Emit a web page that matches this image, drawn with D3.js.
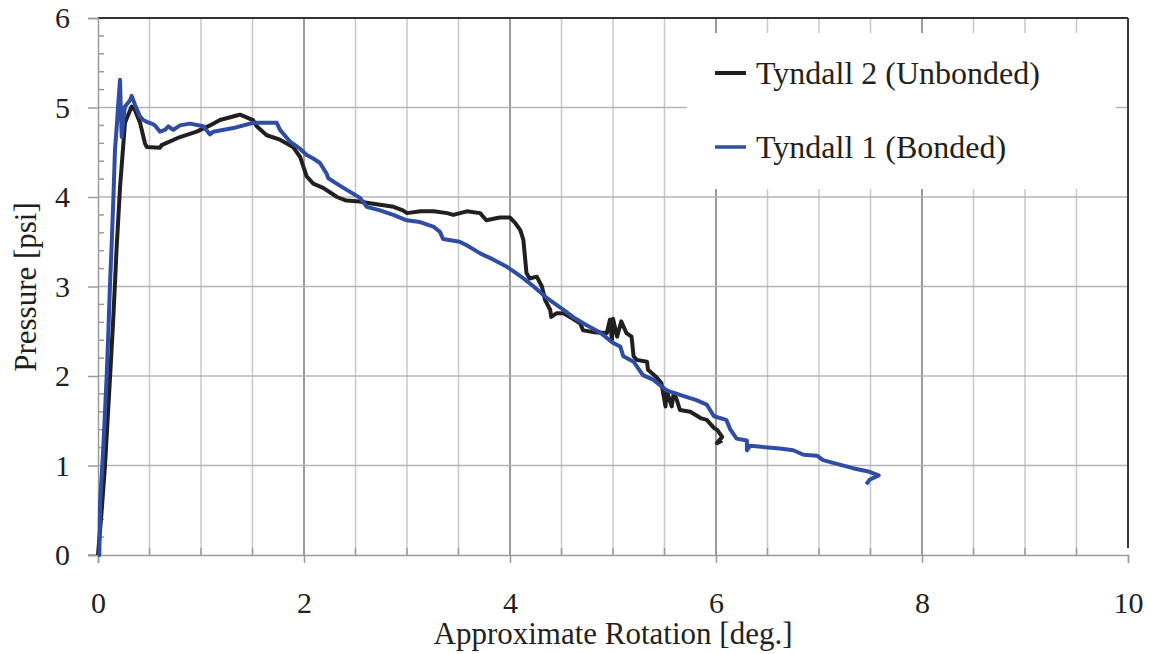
<!DOCTYPE html>
<html>
<head>
<meta charset="utf-8">
<script src="https://cdn.jsdelivr.net/npm/d3@7"></script>
<style>
  html, body { margin: 0; padding: 0; background: #fff; }
  svg { display: block; }
  text { font-family: "Liberation Serif", "Times New Roman", serif; fill: #231f20; }
</style>
</head>
<body>
<svg id="chart" width="1151" height="654"></svg>
<script>
// ---- data ----
const seriesNames = ["Tyndall 2 (Unbonded)", "Tyndall 1 (Bonded)"];
const xTickLabels = [0, 2, 4, 6, 8, 10];
const yTickLabels = [0, 1, 2, 3, 4, 5, 6];

const unbondedX = [0, 0.036, 0.068, 0.117, 0.146, 0.165, 0.18, 0.214, 0.262, 0.327, 0.359, 0.408, 0.456, 0.473, 0.602, 0.618, 0.796, 0.958, 1.087, 1.184, 1.347, 1.379, 1.505, 1.541, 1.638, 1.767, 1.893, 1.961, 2.026, 2.09, 2.19, 2.32, 2.41, 2.54, 2.64, 2.87, 2.96, 3.00, 3.13, 3.26, 3.39, 3.45, 3.58, 3.71, 3.77, 3.90, 4.00, 4.05, 4.10, 4.13, 4.16, 4.19, 4.26, 4.31, 4.34, 4.39, 4.40, 4.45, 4.52, 4.61, 4.68, 4.71, 4.81, 4.94, 4.97, 4.99, 5.00, 5.04, 5.08, 5.13, 5.18, 5.20, 5.23, 5.33, 5.34, 5.42, 5.47, 5.51, 5.52, 5.57, 5.59, 5.62, 5.65, 5.75, 5.85, 5.91, 5.98, 6.01, 6.06, 6.01, 6.06];
const unbondedY = [0, 0.50, 1.0, 1.99, 2.59, 3.04, 3.41, 4.11, 4.83, 5.01, 4.97, 4.83, 4.60, 4.56, 4.55, 4.58, 4.67, 4.73, 4.80, 4.86, 4.91, 4.92, 4.86, 4.79, 4.69, 4.64, 4.56, 4.45, 4.23, 4.15, 4.10, 4.00, 3.96, 3.95, 3.93, 3.89, 3.85, 3.82, 3.84, 3.84, 3.82, 3.80, 3.84, 3.82, 3.74, 3.77, 3.77, 3.71, 3.63, 3.52, 3.15, 3.09, 3.11, 3.00, 2.85, 2.74, 2.66, 2.70, 2.70, 2.64, 2.59, 2.51, 2.49, 2.48, 2.63, 2.40, 2.64, 2.44, 2.61, 2.48, 2.44, 2.22, 2.18, 2.16, 2.07, 1.99, 1.92, 1.66, 1.84, 1.66, 1.81, 1.73, 1.62, 1.60, 1.53, 1.51, 1.42, 1.40, 1.32, 1.25, 1.28];

const bondedX = [0, 0.013, 0.02, 0.05, 0.084, 0.10, 0.117, 0.133, 0.149, 0.165, 0.182, 0.197, 0.214, 0.220, 0.230, 0.246, 0.262, 0.311, 0.327, 0.359, 0.408, 0.44, 0.473, 0.521, 0.553, 0.602, 0.650, 0.683, 0.731, 0.796, 0.893, 1.022, 1.087, 1.12, 1.314, 1.508, 1.735, 1.767, 1.864, 1.961, 2.026, 2.09, 2.155, 2.22, 2.236, 2.317, 2.415, 2.544, 2.609, 2.738, 2.867, 2.997, 3.126, 3.255, 3.32, 3.35, 3.51, 3.58, 3.71, 3.84, 3.97, 4.06, 4.13, 4.23, 4.36, 4.52, 4.61, 4.74, 4.87, 5.00, 5.07, 5.10, 5.20, 5.29, 5.39, 5.52, 5.65, 5.81, 5.91, 5.98, 6.10, 6.14, 6.20, 6.30, 6.30, 6.33, 6.62, 6.75, 6.85, 6.98, 7.04, 7.20, 7.33, 7.49, 7.58, 7.49, 7.46];
const bondedY = [0, 0, 0.58, 1.17, 1.99, 2.48, 3.04, 3.48, 3.97, 4.53, 4.79, 5.05, 5.31, 5.05, 4.67, 4.86, 5.01, 5.08, 5.13, 5.03, 4.90, 4.86, 4.84, 4.82, 4.80, 4.73, 4.75, 4.79, 4.75, 4.80, 4.82, 4.79, 4.70, 4.73, 4.77, 4.83, 4.83, 4.75, 4.62, 4.54, 4.47, 4.43, 4.38, 4.26, 4.21, 4.15, 4.08, 3.99, 3.89, 3.85, 3.80, 3.74, 3.72, 3.67, 3.61, 3.53, 3.50, 3.46, 3.37, 3.30, 3.22, 3.15, 3.09, 3.00, 2.87, 2.74, 2.66, 2.57, 2.49, 2.37, 2.33, 2.22, 2.16, 2.01, 1.96, 1.84, 1.79, 1.73, 1.68, 1.55, 1.51, 1.40, 1.30, 1.28, 1.17, 1.22, 1.19, 1.17, 1.12, 1.11, 1.06, 1.01, 0.97, 0.93, 0.89, 0.84, 0.79];

const seriesColors = ["#231f20", "#2f4ea3"];

// ---- layout ----
const svg = d3.select("#chart");
const L = 98, R = 1128, T = 18, B = 555;
const x = d3.scaleLinear().domain([0, 10]).range([L, R]);
const y = d3.scaleLinear().domain([0, 6]).range([B, T]);

const g = svg.append("g");

// vertical gridlines every 0.5, darker at major (every 2)
const vGrid = d3.range(0.5, 10, 0.5);
g.selectAll("line.vg").data(vGrid).join("line")
  .attr("x1", d => x(d)).attr("x2", d => x(d))
  .attr("y1", T).attr("y2", B)
  .attr("stroke", d => (d % 2 === 0) ? "#7a7a7a" : "#c8c8c8")
  .attr("stroke-width", 1.5);

// horizontal gridlines at each integer
g.selectAll("line.hg").data(d3.range(1, 6)).join("line")
  .attr("x1", L).attr("x2", R)
  .attr("y1", d => y(d)).attr("y2", d => y(d))
  .attr("stroke", "#b4b4b4").attr("stroke-width", 1.5);

// minor ticks on x-axis (pointing up) at every 0.5
g.selectAll("line.xmt").data(vGrid).join("line")
  .attr("x1", d => x(d)).attr("x2", d => x(d))
  .attr("y1", B - 7).attr("y2", B)
  .attr("stroke", "#9a9a9a").attr("stroke-width", 1.5);

// legend box (white, covering grid)
const legX = 687, legY = 33, legW = 1116 - 687, legH = 189 - 33;
svg.append("rect").attr("x", legX).attr("y", legY).attr("width", legW).attr("height", legH)
  .attr("fill", "#fff");

// borders: top and right
svg.append("line").attr("x1", L).attr("x2", R).attr("y1", T).attr("y2", T)
  .attr("stroke", "#333").attr("stroke-width", 2);
svg.append("line").attr("x1", R).attr("x2", R).attr("y1", T).attr("y2", B - 7)
  .attr("stroke", "#3a3a3a").attr("stroke-width", 2);

// y axis
const yAxis = d3.axisLeft(y).tickValues(yTickLabels).tickSize(10).tickPadding(18)
  .tickFormat(d3.format("d"));
const ya = svg.append("g").attr("transform", `translate(${L},0)`).call(yAxis);
ya.select(".domain").attr("stroke", "#9a9a9a").attr("stroke-width", 1.5);
ya.selectAll(".tick line").attr("stroke", "#9a9a9a").attr("stroke-width", 1.5);
ya.selectAll(".tick text").attr("font-size", 30).attr("font-family", "Liberation Serif").attr("fill", "#231f20");
// y minor ticks pointing inward
const yMinor = d3.range(0.2, 6, 0.2).filter(v => Math.abs(v - Math.round(v)) > 0.01);
svg.selectAll("line.ymt").data(yMinor).join("line")
  .attr("x1", L).attr("x2", L + 6)
  .attr("y1", d => y(d)).attr("y2", d => y(d))
  .attr("stroke", "#9a9a9a").attr("stroke-width", 1.5);

// x axis
const xAxis = d3.axisBottom(x).tickValues(xTickLabels).tickSize(8).tickPadding(29)
  .tickFormat(d3.format("d"));
const xa = svg.append("g").attr("transform", `translate(0,${B})`).call(xAxis);
xa.select(".domain").attr("stroke", "#9a9a9a").attr("stroke-width", 1.5);
xa.selectAll(".tick line").attr("stroke", "#9a9a9a").attr("stroke-width", 1.5);
xa.selectAll(".tick text").attr("font-size", 30).attr("font-family", "Liberation Serif").attr("fill", "#231f20");
svg.append("line").attr("x1", L - 10).attr("x2", L).attr("y1", B).attr("y2", B)
  .attr("stroke", "#9a9a9a").attr("stroke-width", 1.5);

// series lines
const line = d3.line().x(d => x(d[0])).y(d => y(d[1]));
const series = [
  d3.zip(unbondedX, unbondedY),
  d3.zip(bondedX, bondedY)
];
svg.append("path").datum(series[0]).attr("d", line)
  .attr("fill", "none").attr("stroke", seriesColors[0]).attr("stroke-width", 4)
  .attr("stroke-linejoin", "round");
svg.append("path").datum(series[1]).attr("d", line)
  .attr("fill", "none").attr("stroke", seriesColors[1]).attr("stroke-width", 4)
  .attr("stroke-linejoin", "round");

// legend
const legItems = [
  { name: seriesNames[0], color: seriesColors[0], y: 73 },
  { name: seriesNames[1], color: seriesColors[1], y: 147 }
];
legItems.forEach(it => {
  svg.append("line").attr("x1", 715).attr("x2", 746).attr("y1", it.y).attr("y2", it.y)
    .attr("stroke", it.color).attr("stroke-width", it.color === seriesColors[0] ? 4 : 3.5);
  svg.append("text").attr("x", 756).attr("y", it.y + 11)
    .attr("font-size", 32).text(it.name);
});

// axis titles
svg.append("text").attr("x", 613).attr("y", 644)
  .attr("text-anchor", "middle").attr("font-size", 31)
  .text("Approximate Rotation [deg.]");
svg.append("text").attr("transform", `translate(36,287) rotate(-90)`)
  .attr("text-anchor", "middle").attr("font-size", 31)
  .text("Pressure [psi]");
</script>
</body>
</html>
